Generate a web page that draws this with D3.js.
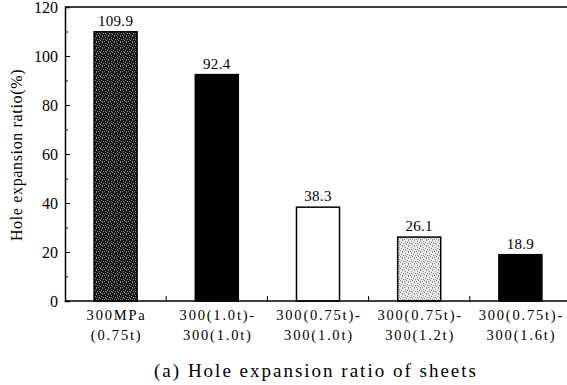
<!DOCTYPE html>
<html>
<head>
<meta charset="utf-8">
<script src="https://cdn.jsdelivr.net/npm/d3@7"></script>
<style>
  body { margin: 0; background: #fff; }
  svg { display: block; font-family: 'Liberation Serif', 'DejaVu Serif', serif; }
</style>
</head>
<body>
<div id="chart"></div>
<script>
const width = 567;
const height = 385;

const categoryTop = ['300MPa', '300(1.0t)-', '300(0.75t)-', '300(0.75t)-', '300(0.75t)-'];
const categoryBottom = ['(0.75t)', '300(1.0t)', '300(1.0t)', '300(1.2t)', '300(1.6t)'];
const values = [109.9, 92.4, 38.3, 26.1, 18.9];
const fills = ['url(#darkSpeckle)', '#000', '#fff', 'url(#lightSpeckle)', '#000'];
const yTicks = [0, 20, 40, 60, 80, 100, 120];
const yMinorTicks = [10, 30, 50, 70, 90, 110];

const margin = { left: 65, right: -4, top: 7, bottom: 84 };

const svg = d3.select('#chart').append('svg')
  .attr('width', width)
  .attr('height', height);

// stipple patterns (fixed dot layout)
const defs = svg.append('defs');
const dots = [[0, 0], [3, 1], [1, 3], [4, 4], [2, 5], [5, 2], [0, 5], [3, 3]];

function speckle(id, base, dot) {
  const p = defs.append('pattern')
    .attr('id', id)
    .attr('patternUnits', 'userSpaceOnUse')
    .attr('width', 6)
    .attr('height', 6);
  p.append('rect').attr('width', 6).attr('height', 6).attr('fill', base);
  p.selectAll('rect.dot')
    .data(dots)
    .enter()
    .append('rect')
    .attr('class', 'dot')
    .attr('x', d => d[0])
    .attr('y', d => d[1])
    .attr('width', 1)
    .attr('height', 1)
    .attr('fill', dot);
}
speckle('darkSpeckle', '#151515', '#8a8a8a');
speckle('lightSpeckle', '#ececec', '#8a8a8a');

const x = d3.scaleBand()
  .domain(d3.range(values.length))
  .range([margin.left, width - margin.right])
  .paddingInner(0.575)
  .paddingOuter(0.2875);

const band = d3.scaleBand()
  .domain(d3.range(values.length))
  .range([margin.left, width - margin.right]);

const y = d3.scaleLinear()
  .domain([0, 120])
  .range([height - margin.bottom, margin.top]);

// top frame line
svg.append('line')
  .attr('x1', margin.left).attr('x2', width)
  .attr('y1', y(120)).attr('y2', y(120))
  .attr('stroke', '#000').attr('stroke-width', 1.5);

// bars
svg.selectAll('.bar')
  .data(values)
  .enter()
  .append('rect')
  .attr('class', 'bar')
  .attr('x', (d, i) => x(i))
  .attr('y', d => y(d))
  .attr('width', x.bandwidth())
  .attr('height', d => y(0) - y(d))
  .attr('fill', (d, i) => fills[i])
  .attr('stroke', '#000')
  .attr('stroke-width', 1.5);

// value labels
svg.selectAll('.val')
  .data(values)
  .enter()
  .append('text')
  .attr('class', 'val')
  .attr('x', (d, i) => x(i) + x.bandwidth() / 2)
  .attr('y', d => y(d) - 6)
  .attr('text-anchor', 'middle')
  .attr('font-size', 15)
  .attr('letter-spacing', 0.3)
  .text(d => d3.format('.1f')(d));

// left axis
const leftAxis = d3.axisLeft(y)
  .tickValues(yTicks)
  .tickSize(-5)
  .tickPadding(7)
  .tickFormat(d3.format('d'));

const gl = svg.append('g')
  .attr('transform', `translate(${margin.left}, 0)`)
  .call(leftAxis);
gl.select('.domain').attr('stroke-width', 1.5);
gl.selectAll('.tick text')
  .attr('font-size', 16)
  .attr('font-family', 'Liberation Serif')
  .attr('fill', '#000');

const gm = svg.append('g')
  .attr('transform', `translate(${margin.left}, 0)`)
  .call(d3.axisLeft(y).tickValues(yMinorTicks).tickSize(-3).tickFormat(''));
gm.select('.domain').remove();

// bottom axis, ticks on category boundaries
const boundaries = d3.range(1, values.length);
svg.append('line')
  .attr('x1', margin.left).attr('x2', width)
  .attr('y1', y(0)).attr('y2', y(0))
  .attr('stroke', '#000').attr('stroke-width', 1.5);

svg.selectAll('.xtick')
  .data(boundaries)
  .enter()
  .append('line')
  .attr('class', 'xtick')
  .attr('x1', i => band(i))
  .attr('x2', i => band(i))
  .attr('y1', y(0))
  .attr('y2', y(0) - 5)
  .attr('stroke', '#000');

// category labels
const cats = svg.selectAll('.cat')
  .data(values)
  .enter()
  .append('text')
  .attr('class', 'cat')
  .attr('text-anchor', 'middle')
  .attr('font-size', 14.5)
  .attr('letter-spacing', 1.8);

cats.append('tspan')
  .attr('x', (d, i) => x(i) + x.bandwidth() / 2 + 1)
  .attr('y', y(0) + 19)
  .text((d, i) => categoryTop[i]);

cats.append('tspan')
  .attr('x', (d, i) => x(i) + x.bandwidth() / 2 + 1)
  .attr('y', y(0) + 39)
  .text((d, i) => categoryBottom[i]);

// y axis title
svg.append('text')
  .attr('transform', `translate(22, ${(y(0) + y(120)) / 2 + 1}) rotate(-90)`)
  .attr('text-anchor', 'middle')
  .attr('font-size', 16)
  .attr('letter-spacing', 0.65)
  .text('Hole expansion ratio(%)');

// caption
svg.append('text')
  .attr('x', 316)
  .attr('y', 377)
  .attr('text-anchor', 'middle')
  .attr('font-size', 19)
  .attr('letter-spacing', 2)
  .text('(a) Hole expansion ratio of sheets');
</script>
</body>
</html>
